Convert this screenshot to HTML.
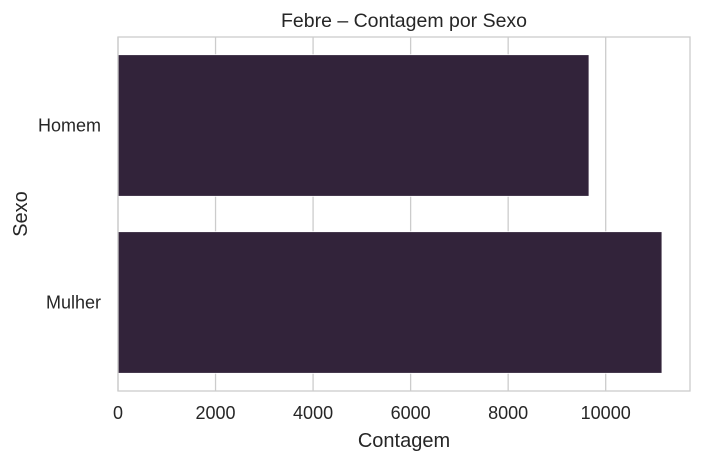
<!DOCTYPE html>
<html><head><meta charset="utf-8"><style>
body{margin:0;background:#fff;}
svg text{font-family:"Liberation Sans",Arial,sans-serif;fill:#262626;}
</style></head><body>
<svg width="701" height="463">
<g id="grid"></g>
<g id="bars"></g>
<rect x="118" y="37" width="572" height="354" fill="none" stroke="#cccccc" stroke-width="1.3"/>
<g id="xt"></g>
<g id="yt"></g>
<text x="404" y="27" font-size="19.5" text-anchor="middle">Febre – Contagem por Sexo</text>
<text x="404" y="447" font-size="20" text-anchor="middle">Contagem</text>
<text x="0" y="0" font-size="20" text-anchor="middle" transform="translate(27,214) rotate(-90)">Sexo</text>
</svg>
<script>
const categories=["Homem","Mulher"];
const values=[9658,11154];
const ticks=[0,2000,4000,6000,8000,10000];
const NS="http://www.w3.org/2000/svg";
const x0=118,pxPer=(605.7-118)/10000;
const X=v=>x0+v*pxPer;
const plotTop=37,plotBottom=391,bandH=(plotBottom-plotTop)/2;
const Y=i=>plotTop+i*bandH;
function mk(t,a){const e=document.createElementNS(NS,t);for(const k in a)e.setAttribute(k,a[k]);return e;}
const grid=document.getElementById('grid'),xt=document.getElementById('xt'),yt=document.getElementById('yt'),bars=document.getElementById('bars');
ticks.forEach(t=>{
 const l=mk('line',{x1:X(t),x2:X(t),y1:plotTop,y2:plotBottom,stroke:'#cccccc','stroke-width':1.3});
 
 
 grid.appendChild(l);
 const tx=mk('text',{x:X(t),y:419,'font-size':18,'text-anchor':'middle'});
 tx.textContent=t;
 
 
 xt.appendChild(tx);
});
categories.forEach((c,i)=>{
 const yc=Y(i)+bandH/2;
 const h=bandH*0.8;
 const r=mk('rect',{x:X(0),y:yc-h/2,width:X(values[i])-X(0),height:h,fill:'#32233a',stroke:'#ffffff','stroke-width':0.8});
 
 
 bars.appendChild(r);
 const tx=mk('text',{x:101,y:yc+6,'font-size':18,'text-anchor':'end'});
 tx.textContent=c;
 
 
 yt.appendChild(tx);
});
</script>
</body></html>
